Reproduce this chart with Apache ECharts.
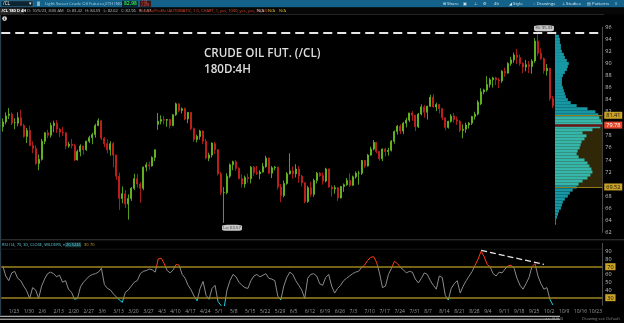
<!DOCTYPE html>
<html><head><meta charset="utf-8">
<script src="https://cdn.jsdelivr.net/npm/echarts/dist/echarts.min.js"></script>
<style>html,body{margin:0;padding:0;background:#000;}#c{width:624px;height:323px;}</style>
</head><body><div id="c"></div>
<script>
// ---- calendar (weekday sessions, Good Friday closed) ----
const firstDay = [2023, 0, 19], lastDay = [2023, 9, 27];
const closedDays = ['4/7'];
// ---- daily bars [open, high, low, close] ----
const janBars = [[79.5,80.9,78.7,80.3],[80.3,81.9,79.9,81.3],[81.4,82.6,80.8,81.6],[81.6,81.9,79.8,80.1],[80.2,80.9,79.1,80.2],[80.1,81.9,79.6,81.0],[81.0,82.3,79.6,79.7],[79.7,80.0,77.7,77.9],[77.9,79.3,76.8,78.9]];
const febBars = [[78.9,79.7,76.3,76.4],[76.4,77.1,75.1,75.9],[75.9,76.4,73.2,73.4],[73.4,74.9,72.3,74.1],[74.1,77.5,73.9,77.1],[77.1,78.6,76.6,78.5],[78.5,79.0,77.6,78.1],[78.1,80.2,77.7,79.7],[79.7,80.5,78.6,80.1],[80.1,80.6,78.5,79.1],[79.1,79.3,77.8,78.6],[78.6,79.5,78.0,78.5],[78.5,78.6,75.8,76.3],[76.3,77.0,76.0,76.6],[76.6,77.5,75.9,76.4],[76.4,76.7,73.8,74.0],[74.0,75.7,73.9,75.4],[75.4,76.6,74.6,76.3],[76.3,76.4,74.9,75.7],[75.7,77.2,75.5,77.1]];
const marBars = [[77.1,78.0,76.8,77.7],[77.7,78.5,76.6,78.2],[78.2,80.0,77.7,79.7],[79.7,80.9,79.6,80.5],[80.5,80.6,77.3,77.6],[77.6,77.8,76.1,76.7],[76.7,77.4,75.1,75.7],[75.7,77.1,74.7,76.7],[76.7,77.0,72.8,74.8],[74.8,74.9,70.7,71.3],[71.3,71.9,65.7,67.6],[67.6,69.6,66.8,68.4],[68.4,69.0,66.0,66.7],[66.7,68.3,64.1,67.6],[67.6,69.5,67.2,69.3],[69.3,71.7,69.0,70.9],[70.9,71.7,69.4,70.0],[70.0,70.3,66.9,69.3],[69.3,72.9,69.0,72.8],[72.8,73.6,72.1,73.2],[73.2,73.7,72.3,73.0],[73.0,74.6,72.9,74.4],[74.4,75.7,73.8,75.7]];
const aprBars = [[79.9,81.8,79.0,80.4],[80.4,81.4,79.9,80.7],[80.7,81.3,79.9,80.6],[80.6,80.8,79.5,80.7],[80.7,80.8,79.2,79.7],[79.7,81.6,79.6,81.5],[81.5,83.5,81.3,83.3],[83.3,83.4,81.9,82.2],[82.2,82.7,81.7,82.5],[82.5,82.7,80.6,80.8],[80.8,81.9,80.1,81.9],[81.9,81.9,78.9,79.2],[79.2,79.4,77.0,77.4],[77.4,78.2,76.9,77.9],[77.9,79.0,77.4,78.8],[78.8,78.9,76.6,77.1],[77.1,77.5,74.1,74.3],[74.3,75.2,73.8,74.8],[74.8,76.9,74.4,76.8]];
const mayBars = [[76.7,77.0,75.0,75.7],[75.7,75.8,71.4,71.7],[71.7,72.0,68.2,68.6],[68.6,69.5,63.57,68.6],[68.6,71.8,68.3,71.3],[71.3,73.4,71.0,73.2],[73.2,73.9,72.3,73.7],[73.7,74.0,72.2,72.6],[72.6,72.8,70.8,70.9],[70.9,71.6,69.4,70.0],[70.0,71.4,69.4,71.1],[71.1,71.7,70.2,70.9],[70.9,73.0,70.1,72.8],[72.8,73.0,71.4,71.9],[71.9,73.0,71.5,71.7],[71.7,72.3,70.8,72.0],[72.0,73.5,71.9,72.9],[72.9,74.7,72.7,74.3],[74.3,74.4,71.7,71.8],[71.8,73.0,71.0,72.7],[72.7,73.0,72.3,72.8],[72.8,72.9,69.1,69.5],[69.5,70.0,67.0,68.1]];
const junBars = [[68.1,70.6,67.8,70.1],[70.1,72.0,69.9,71.7],[71.7,75.1,71.6,72.2],[72.2,72.9,70.9,71.7],[71.7,73.3,71.1,72.5],[72.5,73.0,70.2,71.3],[71.3,71.5,69.6,70.2],[70.2,70.3,66.8,67.1],[67.1,69.7,66.9,69.4],[69.4,70.4,67.9,68.3],[68.3,70.9,67.9,70.6],[70.6,72.0,70.1,71.8],[71.8,72.0,71.2,71.4],[71.4,71.9,69.9,70.5],[70.5,72.7,70.3,72.5],[72.5,72.6,69.4,69.5],[69.5,69.8,67.9,69.2],[69.2,69.8,68.4,69.4],[69.4,69.5,67.2,67.7],[67.7,69.7,67.6,69.6],[69.6,70.1,68.7,69.9],[69.9,71.0,69.7,70.6]];
const julBars = [[70.6,71.8,69.5,69.8],[69.8,71.4,69.7,71.2],[71.2,72.1,70.9,71.8],[71.8,72.2,69.9,71.8],[71.8,74.0,71.5,73.9],[73.9,74.0,72.7,73.0],[73.0,75.0,72.9,74.8],[74.8,76.2,74.7,75.8],[75.8,77.3,75.6,76.9],[76.9,77.0,75.1,75.4],[75.4,75.5,73.9,74.2],[74.2,75.9,73.8,75.8],[75.8,76.0,74.6,75.4],[75.4,76.0,74.7,75.6],[75.6,77.3,75.4,77.1],[77.1,78.9,76.7,78.7],[78.7,79.8,78.2,79.6],[79.6,79.9,78.3,78.8],[78.8,80.3,78.3,80.1],[80.1,81.0,79.4,80.6],[80.6,81.8,80.3,81.8]];
const augBars = [[81.8,82.1,80.5,81.4],[81.4,81.5,78.8,79.5],[79.5,81.8,79.3,81.6],[81.6,83.2,81.4,82.8],[82.8,83.1,81.0,81.9],[81.9,83.0,80.7,82.9],[82.9,84.8,82.8,84.4],[84.4,84.9,82.7,82.8],[82.8,83.5,82.1,83.2],[83.2,83.3,81.7,82.5],[82.5,82.6,80.6,81.0],[81.0,81.0,78.9,79.4],[79.4,80.5,79.2,80.4],[80.4,81.6,80.2,81.3],[81.3,81.8,80.2,80.7],[80.7,81.2,79.8,80.4],[80.4,80.6,78.6,78.9],[78.9,79.9,77.6,79.1],[79.1,80.2,78.5,79.8],[79.8,80.3,79.2,80.1],[80.1,81.3,79.8,81.2],[81.2,82.0,80.7,81.6],[81.6,83.9,81.4,83.6]];
const sepBars = [[83.3,85.9,83.1,85.3],[85.3,85.8,84.9,85.6],[85.6,87.9,85.3,86.5],[86.5,87.6,86.0,87.3],[87.3,87.8,86.0,87.6],[87.6,87.8,86.4,87.3],[87.3,87.6,85.9,87.1],[87.1,88.9,86.8,88.7],[88.7,89.3,87.8,88.4],[88.4,90.2,88.3,90.0],[90.0,91.1,89.6,90.6],[90.6,91.8,90.1,91.4],[91.4,92.4,89.9,91.0],[91.0,91.5,89.6,90.0],[90.0,90.2,88.4,89.4],[89.4,90.6,88.7,89.8],[89.8,90.4,88.4,89.5],[89.5,90.7,88.3,90.4],[90.4,94.2,90.1,93.7],[93.7,95.03,91.3,91.7],[91.7,92.5,90.6,90.8]];
const octBars = [[90.8,91.0,88.3,88.8],[88.8,89.9,88.0,89.2],[89.2,89.3,83.8,84.2],[84.2,84.6,82.6,83.0]];
// ---- RSI(14), one value per session ----
const rsiH1 = [71,58,52,62,64,55,52,45,39,29, 43,40,29,45,54,61,63,61,57,59, 50,52,41,37,28,29,44,50,54,58, 60,61,63,68,47,42,40,35,31,27, 24,37,40,45,50,52,61,64,65,67, 66,63,80,81,74,65,62,66,73,72, 60,55,46,40,32,26,42,51,33,28, 42,46,25,20,16,40,52,60,57,50, 46,43,42,52,58,60,57,59,61,55];
const rsiH2 = [54,52,32,27,45,56,63,60,52,46, 40,29,55,60,61,58,48,46,56,60, 45,36,42,46,52,55,58,61,63,64, 69,72,78,82,83,76,62,43,45,60, 68,77,74,69,66,62,64,63,54,49, 55,62,60,52,46,41,58,56,33,27, 42,48,52,36,45,52,58,64,72,80, 90,83,73,70,61,58,63,62,67,71, 72,68,55,46,41,48,56,70,74,58, 48,41,43,28,20.5246];
// ---- volume profile ----
const profilePrice = [95,94.5,94,93.5,93,92.5,92,91.5,91,90.5,90,89.5,89,88.5,88,87.5,87,86.5,86,85.5,85,84.5,84,83.5,83,82.5,82,81.5,81,80.5,80,79.5,79,78.5,78,77.5,77,76.5,76,75.5,75,74.5,74,73.5,73,72.5,72,71.5,71,70.5,70,69.5,69,68.5,68,67.5,67,66.5,66,65.5,65,64.5,64,63.5];
const profileVol = [1,4,5,5,6,6,7,9,10,12,14,13,12,10,8,7,7,7,8,9,10,11,13,16,22,33,41,44,45,47,48,46,38,28,32,30,27,26,25,23,22,24,30,33,35,37,38,36,33,28,24,22,18,15,13,10,8,7,6,4,3,2,1,1];
const vaHigh = 81.41, poc = 79.78, vaLow = 69.52, hiVal = 95.03, loVal = 63.57, rsiLast = 20.5246;
const priceTicks = {min: 62, max: 96, step: 2};
const rsiTicks = {min: 20, max: 100, step: 10};

// build calendar
const dates = [], mondays = new Set();
(function(){
  const d = new Date(firstDay[0], firstDay[1], firstDay[2]);
  const e = new Date(lastDay[0], lastDay[1], lastDay[2]);
  while (d <= e) {
    const wd = d.getDay();
    const s = (d.getMonth()+1) + '/' + d.getDate();
    if (wd !== 0 && wd !== 6 && closedDays.indexOf(s) < 0) { dates.push(s); if (wd === 1) mondays.add(s); }
    d.setDate(d.getDate()+1);
  }
})();
const bars = [].concat(janBars, febBars, marBars, aprBars, mayBars, junBars, julBars, augBars, sepBars, octBars);
const candleData = bars.map(b => [b[0], b[3], b[2], b[1]]);
const rsi = rsiH1.concat(rsiH2);
const profileData = profileVol.map((v, i) => [v, profilePrice[i]]);

const F = 'Open Sans';
const chart = echarts.init(document.getElementById('c'), null, {renderer: 'canvas'});
const gridL = 1.245, gridW = 601;
const labelBox = (bg, fg) => ({show: true, position: 'end', distance: 2, fontSize: 5.5, fontFamily: F, color: fg, backgroundColor: bg, padding: [1, 2, 0, 2]});

chart.setOption({
  animation: false,
  backgroundColor: '#000',
  textStyle: {fontFamily: F},
  grid: [
    {left: gridL, top: 27.3, width: gridW, height: 205},
    {left: gridL, top: 243.45, width: gridW, height: 62},
    {left: 555, top: 27.3, width: 47.25, height: 205}
  ],
  xAxis: [
    {type: 'category', gridIndex: 0, data: dates, boundaryGap: true, axisLabel: {show: false}, axisTick: {show: false}, axisLine: {show: false}, splitLine: {show: false}},
    {type: 'category', gridIndex: 1, data: dates, boundaryGap: true, axisTick: {show: false}, axisLine: {show: false}, splitLine: {show: false},
     axisLabel: {interval: (i, v) => mondays.has(v), fontSize: 5, color: '#9a9a9a', margin: 4, align: 'left', fontFamily: F}},
    {type: 'value', gridIndex: 2, min: 0, max: 48, show: false}
  ],
  yAxis: [
    {type: 'value', gridIndex: 0, position: 'right', min: priceTicks.min, max: priceTicks.max, interval: priceTicks.step,
     axisLine: {show: true, lineStyle: {color: '#4a4a4a'}}, axisTick: {show: false}, splitLine: {show: false},
     axisLabel: {fontSize: 5.5, color: '#c0c0c0', margin: 3, fontFamily: F, formatter: v => (v === 80 || v === 70) ? '' : String(v)}},
    {type: 'value', gridIndex: 1, position: 'right', min: rsiTicks.min, max: rsiTicks.max, interval: rsiTicks.step,
     axisLine: {show: true, lineStyle: {color: '#4a4a4a'}}, axisTick: {show: false}, splitLine: {show: false},
     axisLabel: {fontSize: 5.5, color: '#c0c0c0', margin: 3, fontFamily: F,
       formatter: v => (v === 30 || v === 70) ? '{hl|' + v + '}' : ((v >= 40 && v <= 90) ? String(v) : ''),
       rich: {hl: {backgroundColor: '#c9a227', color: '#111', fontSize: 5.5, padding: [1, 2, 0, 2]}}}},
    {type: 'value', gridIndex: 2, min: priceTicks.min, max: priceTicks.max, show: false}
  ],
  visualMap: {type: 'piecewise', show: false, seriesIndex: 2, dimension: 1,
    pieces: [{lt: 30, color: '#18d0e2'}, {gte: 30, lte: 70, color: '#8a8a8a'}, {gt: 70, color: '#ff3a12'}]},
  series: [
    {type: 'candlestick', xAxisIndex: 0, yAxisIndex: 0, data: candleData, barWidth: 1.5,
     itemStyle: {color: '#6cc425', color0: '#d02320', borderColor: '#6cc425', borderColor0: '#d02320', borderWidth: 0.8},
     markLine: {symbol: 'none', silent: true, label: {show: false},
       lineStyle: {color: '#e6e6e6', type: [9, 5], width: 2}, data: [{yAxis: hiVal}]},
     markPoint: {symbol: 'roundRect', silent: true, data: [
       {coord: ['9/28', hiVal], symbolSize: [20, 6], symbolOffset: [6, -5], itemStyle: {color: '#c8c8c8'},
        label: {show: true, formatter: 'Hi: ' + hiVal.toFixed(2), fontSize: 4.2, color: '#333', fontFamily: F}},
       {coord: ['5/4', loVal], symbolSize: [20, 6], symbolOffset: [8, 5], itemStyle: {color: '#c8c8c8'},
        label: {show: true, formatter: 'Lo: ' + loVal.toFixed(2), fontSize: 4.2, color: '#333', fontFamily: F}}
     ]}
    },
    {type: 'custom', xAxisIndex: 2, yAxisIndex: 2, data: profileData, clip: false,
     renderItem: function(params, api){
       const v = api.value(0), p = api.value(1);
       const a = api.coord([0, p + 0.25]), b = api.coord([v, p - 0.25]);
       const inVA = p >= vaLow && p <= vaHigh;
       return {type: 'rect', shape: {x: a[0], y: a[1], width: b[0] - a[0], height: b[1] - a[1]},
               style: {fill: inVA ? '#36b5aa' : '#1697a3'}};
     },
     markArea: {silent: true, itemStyle: {color: '#2f2707'}, data: [[{yAxis: vaLow}, {yAxis: vaHigh}]]},
     markLine: {symbol: 'none', silent: true, data: [
       {yAxis: vaHigh, lineStyle: {color: '#8d7a1c', width: 1, type: 'solid'}, label: Object.assign(labelBox('#c9a227', '#111'), {formatter: vaHigh.toFixed(2)})},
       {yAxis: poc, lineStyle: {color: '#6e1010', width: 2.5, type: 'solid'}, label: Object.assign(labelBox('#e5482c', '#fff'), {formatter: poc.toFixed(2)})},
       {yAxis: vaLow, lineStyle: {color: '#8d7a1c', width: 1, type: 'solid'}, label: Object.assign(labelBox('#c9a227', '#111'), {formatter: vaLow.toFixed(2)})}
     ]}
    },
    {type: 'line', xAxisIndex: 1, yAxisIndex: 1, data: rsi, showSymbol: false, symbol: 'none', lineStyle: {width: 1}},
    {type: 'line', xAxisIndex: 1, yAxisIndex: 1, data: [], symbol: 'none',
     markLine: {symbol: 'none', silent: true, data: [
       {yAxis: 70, lineStyle: {color: '#9c8420', width: 1.6, type: 'solid'}, label: {show: false}},
       {yAxis: 30, lineStyle: {color: '#9c8420', width: 1.6, type: 'solid'}, label: {show: false}},
       {yAxis: rsiLast, lineStyle: {opacity: 0}, label: Object.assign(labelBox('#18c6d6', '#002a30'), {formatter: String(rsiLast)})},
       [{coord: ['9/1', 91], lineStyle: {color: '#e8e8e8', width: 1.3, type: [6, 3]}, label: {show: false}}, {coord: ['10/2', 73]}]
     ]}
    }
  ],
  graphic: [
    // top toolbar
    {type: 'rect', shape: {x: 0, y: 0, width: 624, height: 7.5}, style: {fill: '#14628a'}, silent: true},
    {type: 'rect', shape: {x: 1, y: 0.8, width: 32, height: 6}, style: {fill: '#0d2533', stroke: '#5b8198', lineWidth: 0.5}},
    {type: 'text', x: 3, y: 1.4, style: {text: '/CL', fontSize: 4.5, fill: '#fff', fontFamily: F}},
    {type: 'text', x: 29, y: 1.4, style: {text: '▾', fontSize: 4.5, fill: '#ddd'}},
    {type: 'rect', shape: {x: 37, y: 1.5, width: 3, height: 4.5}, style: {fill: '#7fb0c8'}},
    {type: 'text', x: 45, y: 1.6, style: {text: 'Light Sweet Crude Oil Futures,ETH (NOV 23)', fontSize: 4.3, fill: '#a9d0e2', fontFamily: F}},
    {type: 'rect', shape: {x: 122, y: 0.8, width: 16, height: 6}, style: {fill: '#0b2230'}},
    {type: 'text', x: 124, y: 1.3, style: {text: '82.98', fontSize: 5, fontWeight: 'bold', fill: '#2fd84a', fontFamily: F}},
    {type: 'rect', shape: {x: 140, y: 0.8, width: 11, height: 6}, style: {fill: '#3b1616'}},
    {type: 'text', x: 141, y: 0.9, style: {text: '-1.24\n-1.47%', fontSize: 2.6, lineHeight: 2.9, fill: '#ff6a5a', fontFamily: F}},
    {type: 'text', x: 443, y: 1.6, style: {text: '⊞ Share', fontSize: 4.3, fill: '#d2e6f0', fontFamily: F}},
    {type: 'text', x: 463, y: 1.6, style: {text: '▣      ⊥      ⚙      4h', fontSize: 4.3, fill: '#d2e6f0', fontFamily: F}},
    {type: 'text', x: 509, y: 1.6, style: {text: '◢ Style', fontSize: 4.3, fill: '#d2e6f0', fontFamily: F}},
    {type: 'text', x: 533, y: 1.6, style: {text: '◌ Drawings', fontSize: 4.3, fill: '#d2e6f0', fontFamily: F}},
    {type: 'text', x: 562, y: 1.6, style: {text: '⊥ Studies', fontSize: 4.3, fill: '#d2e6f0', fontFamily: F}},
    {type: 'text', x: 587, y: 1.6, style: {text: '▤ Patterns', fontSize: 4.3, fill: '#d2e6f0', fontFamily: F}},
    {type: 'text', x: 615, y: 1.6, style: {text: '≡', fontSize: 4.3, fill: '#d2e6f0', fontFamily: F}},
    // study info row
    {type: 'rect', shape: {x: 0, y: 7.5, width: 624, height: 7}, style: {fill: '#070707'}},
    {type: 'rect', shape: {x: 0, y: 8.2, width: 24, height: 5.6}, style: {fill: '#2a2a2a'}},
    {type: 'text', x: 1.5, y: 9.2, style: {text: '/CL 180 D 4H', fontSize: 4, fill: '#fff', fontWeight: 'bold', fontFamily: F}},
    {type: 'text', x: 27, y: 9.2, style: {text: 'D: 10/5/23, 8:00 AM   O: 83.42   H: 84.59   L: 82.62   C: 82.96   R: 1.97', fontSize: 4, fill: '#bdbdbd', fontFamily: F}},
    {type: 'text', x: 140, y: 9.2, style: {text: 'VolumeProfile (AUTOMATIC, 1.0, CHART, 1, yes, 1000, yes, yes, 70, 50)', fontSize: 4, fill: '#e0452a', fontFamily: F}},
    {type: 'text', x: 257, y: 9.2, style: {text: 'N/A', fontSize: 4, fill: '#d0d0d0', fontFamily: F}},
    {type: 'text', x: 268, y: 9.2, style: {text: 'N/A', fontSize: 4, fill: '#d9b92a', fontFamily: F}},
    {type: 'text', x: 279, y: 9.2, style: {text: 'N/A', fontSize: 4, fill: '#d9b92a', fontFamily: F}},
    {type: 'line', shape: {x1: 0, y1: 14.5, x2: 604, y2: 14.5}, style: {stroke: '#3a3a3a', lineWidth: 0.6}},
    {type: 'circle', shape: {cx: 4.6, cy: 18.6, r: 2.4}, style: {fill: '#cfcfcf'}},
    {type: 'text', x: 4, y: 16.6, style: {text: 'i', fontSize: 4, fontWeight: 'bold', fill: '#000', fontFamily: F}},
    {type: 'line', shape: {x1: 0.6, y1: 15, x2: 0.6, y2: 315}, style: {stroke: '#2f4553', lineWidth: 1}},
    // title
    {type: 'text', x: 204, y: 47.5, style: {text: 'CRUDE OIL FUT. (/CL)', fontSize: 11.6, fontWeight: 600, fill: '#dedede', fontFamily: F}},
    {type: 'text', x: 204, y: 64, style: {text: '180D:4H', fontSize: 11.6, fontWeight: 600, fill: '#dedede', fontFamily: F}},
    // RSI panel chrome
    {type: 'line', shape: {x1: 0, y1: 239.8, x2: 624, y2: 239.8}, style: {stroke: '#3c3c3c', lineWidth: 1}},
    {type: 'line', shape: {x1: 0, y1: 249.2, x2: 602, y2: 249.2}, style: {stroke: '#262626', lineWidth: 0.6}},
    {type: 'text', x: 2, y: 242.8, style: {text: 'RSI (14, 70, 30, CLOSE, WILDERS, no)', fontSize: 4, fill: '#5fd0dd', fontFamily: F}},
    {type: 'rect', shape: {x: 65, y: 242.3, width: 16, height: 5}, style: {fill: '#14363b'}},
    {type: 'text', x: 66, y: 242.8, style: {text: '20.5246', fontSize: 4, fill: '#5fd0dd', fontFamily: F}},
    {type: 'text', x: 84, y: 242.8, style: {text: '30', fontSize: 4, fill: '#c9a227', fontFamily: F}},
    {type: 'text', x: 90, y: 242.8, style: {text: '70', fontSize: 4, fill: '#c9a227', fontFamily: F}},
    // bottom strip
    {type: 'line', shape: {x1: 0, y1: 316.3, x2: 560, y2: 316.3}, style: {stroke: '#d8d8d8', lineWidth: 1}},
    {type: 'line', shape: {x1: 0, y1: 319.2, x2: 560, y2: 319.2}, style: {stroke: '#d8d8d8', lineWidth: 1}},
    {type: 'text', x: 545, y: 316.6, style: {text: '◂ ▸  ⊟ ⊞ ⊡', fontSize: 4, fill: '#9a9a9a', fontFamily: F}},
    {type: 'text', x: 582, y: 316.6, style: {text: 'Drawing set: Default', fontSize: 4, fill: '#8a8a8a', fontFamily: F}}
  ]
});
</script></body></html>
